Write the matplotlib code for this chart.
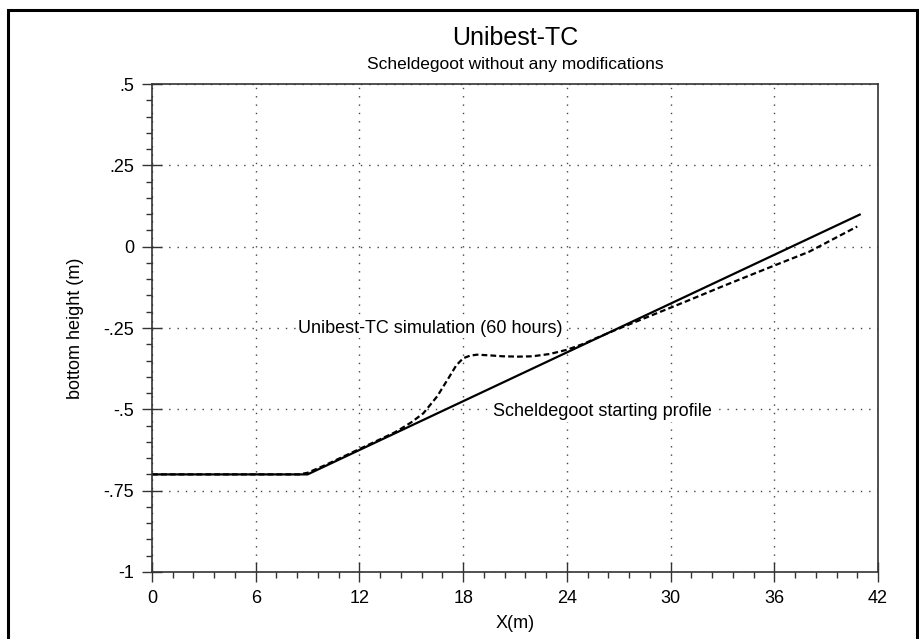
import matplotlib
matplotlib.use('Agg')
import matplotlib.pyplot as plt
from matplotlib.patches import Rectangle
from matplotlib.ticker import MultipleLocator, FuncFormatter

plt.rcParams['font.family'] = ['Liberation Sans', 'DejaVu Sans']

# starting profile (solid)
x_start = [0, 9, 41]
z_start = [-0.70, -0.70, 0.10]

# simulated profile after 60 hours (dashed)
x_sim = [0, 8.5, 9.0, 10, 11, 12, 13, 14, 14.3, 15.0, 15.7, 16.5, 17.2, 17.6, 18.0, 18.4,
         18.8, 19.5, 20.3, 21.2, 22.0, 23.0, 24.0, 25.0, 25.7, 27, 29, 31, 33, 36, 38, 40.8]
z_sim = [-0.70, -0.70, -0.695, -0.672, -0.647, -0.622, -0.597, -0.572, -0.563, -0.54,
         -0.512, -0.46, -0.40, -0.365, -0.343, -0.335, -0.332, -0.334, -0.337, -0.338,
         -0.337, -0.33, -0.317, -0.298, -0.281, -0.252, -0.209, -0.166, -0.122, -0.058,
         -0.016, 0.062]


def fmt_y(v, pos):
    if abs(v) < 1e-9:
        return '0'
    s = ('%g' % v)
    return s.replace('0.', '.')


fig = plt.figure(figsize=(9.2, 6.39), dpi=100)
fig.patches.append(Rectangle((8 / 920, -0.05), 909 / 920, 1.05 - 10 / 639, transform=fig.transFigure,
                             fill=False, edgecolor='black', linewidth=2.2))

ax = fig.add_axes([152 / 920, 1 - 572 / 639, 726 / 920, 488 / 639])
ax.plot(x_start, z_start, color='black', linewidth=1.6, solid_capstyle='butt')
ax.plot(x_sim, z_sim, color='black', linewidth=1.6, linestyle=(0, (2.6, 1.4)))

ax.set_xlim(0, 42)
ax.set_ylim(-1, 0.5)
ax.xaxis.set_major_locator(MultipleLocator(6))
ax.xaxis.set_minor_locator(MultipleLocator(1.2))
ax.yaxis.set_major_locator(MultipleLocator(0.25))
ax.yaxis.set_minor_locator(MultipleLocator(0.05))
ax.yaxis.set_major_formatter(FuncFormatter(fmt_y))

ax.tick_params(which='major', direction='inout', length=14, width=1, color='#333333',
               labelsize=13, pad=6)
ax.tick_params(which='minor', direction='out', length=4, width=1, color='#333333')
for sp in ax.spines.values():
    sp.set_color('#333333')
    sp.set_linewidth(1.2)

ax.grid(which='major', color='#444444', linestyle=(0, (1, 5)), linewidth=1)

ax.set_xlabel('X(m)', fontsize=13, labelpad=6)
ax.set_ylabel('bottom height (m)', fontsize=13, labelpad=14)

ax.text(8.45, -0.25, 'Unibest-TC simulation (60 hours)', fontsize=13, ha='left', va='center',
        bbox=dict(facecolor='white', edgecolor='none', pad=1))
ax.text(19.7, -0.508, 'Scheldegoot starting profile', fontsize=13, ha='left', va='center',
        bbox=dict(facecolor='white', edgecolor='none', pad=1))

fig.text(515 / 920, 1 - 38 / 639, 'Unibest-TC', fontsize=18, ha='center', va='center')
fig.text(515 / 920, 1 - 64 / 639, 'Scheldegoot without any modifications', fontsize=12.5,
         ha='center', va='center')

fig.savefig('out.png', dpi=100)
